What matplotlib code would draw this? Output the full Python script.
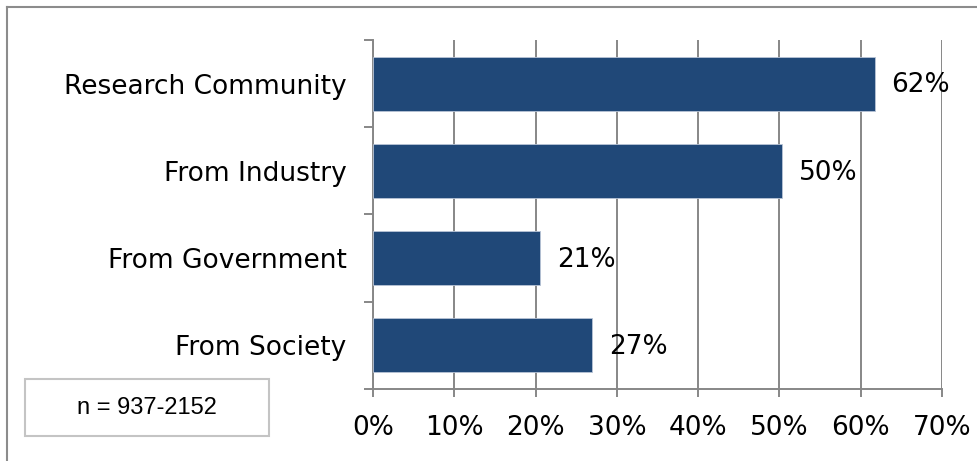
import matplotlib
matplotlib.use("Agg")
import matplotlib.pyplot as plt
from matplotlib.patches import Rectangle
from matplotlib.lines import Line2D
from matplotlib.ticker import FixedLocator

categories = ["Research Community", "From Industry", "From Government", "From Society"]
values = [61.7, 50.3, 20.6, 26.9]
value_labels = ["62%", "50%", "21%", "27%"]
xticks = [0, 10, 20, 30, 40, 50, 60, 70]
xtick_labels = ["0%", "10%", "20%", "30%", "40%", "50%", "60%", "70%"]
note = "n = 937-2152"

W, H = 978, 461
fig = plt.figure(figsize=(W / 100, H / 100), dpi=100)
fig.patch.set_facecolor("white")

ax = fig.add_axes([373 / W, 1 - 389 / H, (942 - 373) / W, (389 - 40) / H])

ypos = list(range(len(categories)))
bar_color = "#204878"
ax.barh(ypos, values, height=0.62, color=bar_color, edgecolor="#b8c4d6",
        linewidth=0.6, zorder=3)

for y, v, lab in zip(ypos, values, value_labels):
    ax.text(v + 2.1, y + 0.02, lab, va="center", ha="left", fontsize=19,
            family="DejaVu Sans", color="black", zorder=4)

ax.set_xlim(0, 70)
ax.set_ylim(len(categories) - 0.5, -0.5)

ax.set_xticks(xticks)
ax.set_xticklabels(xtick_labels, fontsize=19, family="DejaVu Sans")
ax.set_yticks(ypos)
ax.set_yticklabels(categories, fontsize=19, family="DejaVu Sans")
ax.yaxis.set_minor_locator(FixedLocator([-0.5, 0.5, 1.5, 2.5, 3.5]))

grid_c = "#878787"
ax.grid(axis="x", color=grid_c, linewidth=1.4, zorder=0)
ax.set_axisbelow(True)

for s in ["top", "right"]:
    ax.spines[s].set_visible(False)
for s in ["left", "bottom"]:
    ax.spines[s].set_color(grid_c)
    ax.spines[s].set_linewidth(1.4)

ax.tick_params(axis="x", which="major", length=6, width=1.4, color=grid_c, pad=13)
ax.tick_params(axis="y", which="major", length=0, pad=19)
ax.tick_params(axis="y", which="minor", length=6.5, width=1.4, color=grid_c)

# note box
fig.patches.append(Rectangle((25, H - 436), 244, 57, transform=None,
                             facecolor="white", edgecolor="#c4c4c4", linewidth=1.5))
fig.text(147 / W, (H - 408) / H, note, ha="center", va="center",
         fontsize=17, family="Liberation Sans", color="black")

# outer border (top and left visible)
fig.lines.append(Line2D([7, W + 5], [H - 7, H - 7], transform=None,
                        color="#8c8c8c", linewidth=1.5))
fig.lines.append(Line2D([7, 7], [H - 7, -5], transform=None,
                        color="#8c8c8c", linewidth=1.5))

fig.savefig("out.png", dpi=100, facecolor="white")
